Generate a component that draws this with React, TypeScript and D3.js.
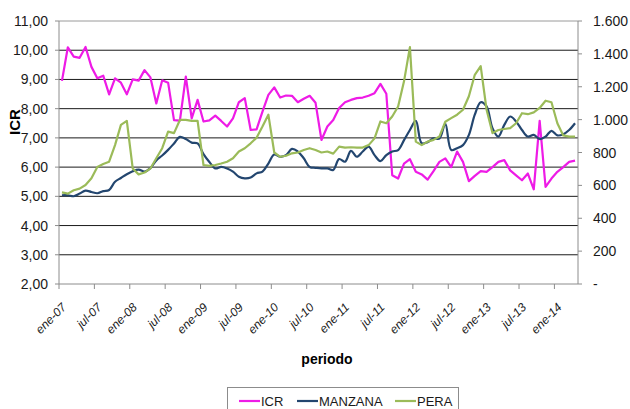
import * as d3 from 'd3'

// monthly series, ene-07 .. abr-14 (88 months)
const icr = [
  8.95, 10.1, 9.78, 9.74, 10.11, 9.43, 9.04, 9.13, 8.49, 9.04, 8.89, 8.49,
  9.0, 8.96, 9.32, 9.07, 8.18, 8.97, 8.89, 7.61, 7.59, 9.1, 7.67, 8.3,
  7.56, 7.6, 7.76, 7.58, 7.39, 7.67, 8.22, 8.36, 7.27, 7.29, 7.9, 8.47,
  8.73, 8.38, 8.45, 8.44, 8.22, 8.34, 8.44, 8.2, 6.93, 7.39, 7.61, 8.02,
  8.22, 8.3, 8.36, 8.38, 8.44, 8.53, 8.85, 8.51, 5.72, 5.61, 6.12, 6.27,
  5.84, 5.75, 5.57, 5.86, 6.18, 6.3, 6.0, 6.53, 6.18, 5.52, 5.7, 5.86,
  5.84, 6.0, 6.18, 6.24, 5.89, 5.72, 5.55, 5.78, 5.24, 7.58, 5.32, 5.61,
  5.84, 6.0, 6.18, 6.22,
]

const manzana = [
  540, 540, 534, 550, 568, 560, 552, 565, 572, 622, 645, 668,
  686, 696, 684, 705, 752, 782, 816, 855, 895, 882, 860, 855,
  790, 742, 703, 712, 703, 684, 653, 643, 648, 673, 684, 733,
  788, 774, 784, 822, 806, 765, 712, 707, 703, 703, 694, 760,
  744, 810, 774, 806, 836, 784, 748, 784, 806, 815, 875, 937,
  992, 856, 863, 886, 885, 975, 815, 826, 845, 907, 1030, 1106,
  1080, 948, 897, 968, 1019, 989, 937, 897, 907, 882, 897, 932,
  904, 911, 937, 978,
]

const pera = [
  557, 550, 570, 580, 602, 643, 712, 730, 744, 845, 968, 992,
  703, 667, 678, 703, 765, 826, 927, 918, 998, 998, 992, 992,
  724, 719, 724, 733, 744, 765, 806, 826, 856, 890, 958, 1030,
  800, 774, 780, 795, 800, 815, 826, 815, 800, 806, 793, 836,
  830, 832, 830, 830, 845, 886, 989, 978, 1019, 1080, 1233, 1441,
  866, 845, 866, 877, 897, 987, 1009, 1030, 1060, 1142, 1273, 1325,
  1060, 918, 937, 943, 948, 978, 1039, 1033, 1044, 1071, 1115, 1106,
  978, 904, 897, 897,
]

const tickLabels = [
  'ene-07', 'jul-07', 'ene-08', 'jul-08', 'ene-09', 'jul-09', 'ene-10', 'jul-10',
  'ene-11', 'jul-11', 'ene-12', 'jul-12', 'ene-13', 'jul-13', 'ene-14',
]
const leftTicks = [2, 3, 4, 5, 6, 7, 8, 9, 10, 11]
const rightTicks = [0, 200, 400, 600, 800, 1000, 1200, 1400, 1600]

const series = [
  { name: 'ICR', values: icr, axis: 'left', color: '#ee1be6', smooth: false },
  { name: 'MANZANA', values: manzana, axis: 'right', color: '#23466f', smooth: true },
  { name: 'PERA', values: pera, axis: 'right', color: '#9bbb59', smooth: false },
]

const WIDTH = 630
const HEIGHT = 409
const PLOT = { left: 59, right: 578, top: 21, bottom: 284 }
const FONT = '"Liberation Sans", Arial, sans-serif'

const esLocale = d3.formatLocale({ decimal: ',', thousands: '.', grouping: [3], currency: ['$', ''] })
const fmtLeft = esLocale.format(',.2f')
const fmtRight = (v: number) => (v === 0 ? '-' : esLocale.format(',.0f')(v))

export default function App() {
  const x = d3.scaleLinear().domain([0, icr.length]).range([PLOT.left, PLOT.right])
  const yL = d3.scaleLinear().domain([2, 11]).range([PLOT.bottom, PLOT.top])
  const yR = d3.scaleLinear().domain([0, 1600]).range([PLOT.bottom, PLOT.top])

  const lineFor = (s: any) =>
    d3.line<number>()
      .x((_, i) => x(i + 0.5))
      .y((d) => (s.axis === 'left' ? yL(d) : yR(d)))
      .curve(s.smooth ? d3.curveCatmullRom.alpha(0.5) : d3.curveLinear)(s.values)

  const legendItems = [
    { x: 239, s: series[0] },
    { x: 297, s: series[1] },
    { x: 395, s: series[2] },
  ]

  return (
    <svg width={WIDTH} height={HEIGHT} style={{ position: 'absolute', left: 0, top: 0, background: '#fff' }}
      fontFamily={FONT}>
      {/* gridlines */}
      {leftTicks.slice(1).map((t) => (
        <line key={'g' + t} x1={PLOT.left} x2={PLOT.right} y1={yL(t)} y2={yL(t)}
          stroke={t === 11 ? '#9a9a9a' : '#1a1a1a'} strokeWidth={1} />
      ))}

      {/* left axis */}
      <line x1={PLOT.left} x2={PLOT.left} y1={PLOT.top} y2={PLOT.bottom} stroke="#8c8c8c" />
      {leftTicks.map((t) => (
        <g key={'l' + t}>
          <line x1={PLOT.left - 4} x2={PLOT.left} y1={yL(t)} y2={yL(t)} stroke="#8c8c8c" />
          <text x={48} y={yL(t)} dy="0.36em" textAnchor="end" fontSize={14} fill="#1a1a1a">{fmtLeft(t)}</text>
        </g>
      ))}
      <text transform={`translate(20,122) rotate(-90)`} textAnchor="middle" fontSize={15} fontWeight="bold"
        fill="#000">ICR</text>

      {/* right axis */}
      <line x1={PLOT.right} x2={PLOT.right} y1={PLOT.top} y2={PLOT.bottom} stroke="#8c8c8c" />
      {rightTicks.map((t) => (
        <g key={'r' + t}>
          <line x1={PLOT.right} x2={PLOT.right + 4} y1={yR(t)} y2={yR(t)} stroke="#8c8c8c" />
          <text x={593} y={yR(t)} dy="0.36em" textAnchor="start" fontSize={14} fill="#1a1a1a">{fmtRight(t)}</text>
        </g>
      ))}

      {/* x axis */}
      <line x1={PLOT.left} x2={PLOT.right} y1={PLOT.bottom} y2={PLOT.bottom} stroke="#8c8c8c" />
      {tickLabels.map((lab, k) => {
        const tx = x(k * 6)
        return (
          <g key={lab}>
            <line x1={tx} x2={tx} y1={PLOT.bottom} y2={PLOT.bottom + 5} stroke="#8c8c8c" />
            <text transform={`translate(${tx + 8},${PLOT.bottom + 24}) rotate(-45)`} textAnchor="end"
              fontSize={12} fontStyle="italic" fill="#1a1a1a">{lab}</text>
          </g>
        )
      })}
      <text x={327} y={364} textAnchor="middle" fontSize={14} fontWeight="bold" fill="#000">periodo</text>

      {/* series */}
      {series.map((s) => (
        <path key={s.name} d={lineFor(s) || ''} fill="none" stroke={s.color} strokeWidth={2.2}
          strokeLinejoin="round" />
      ))}

      {/* legend */}
      <rect x={227.5} y={387.5} width={231} height={30} fill="#fff" stroke="#8c8c8c" />
      {legendItems.map((it) => (
        <g key={it.s.name}>
          <line x1={it.x} x2={it.x + 21} y1={401} y2={401} stroke={it.s.color} strokeWidth={2.2} />
          <text x={it.x + 22} y={406} fontSize={13} fill="#1a1a1a">{it.s.name}</text>
        </g>
      ))}
    </svg>
  )
}
